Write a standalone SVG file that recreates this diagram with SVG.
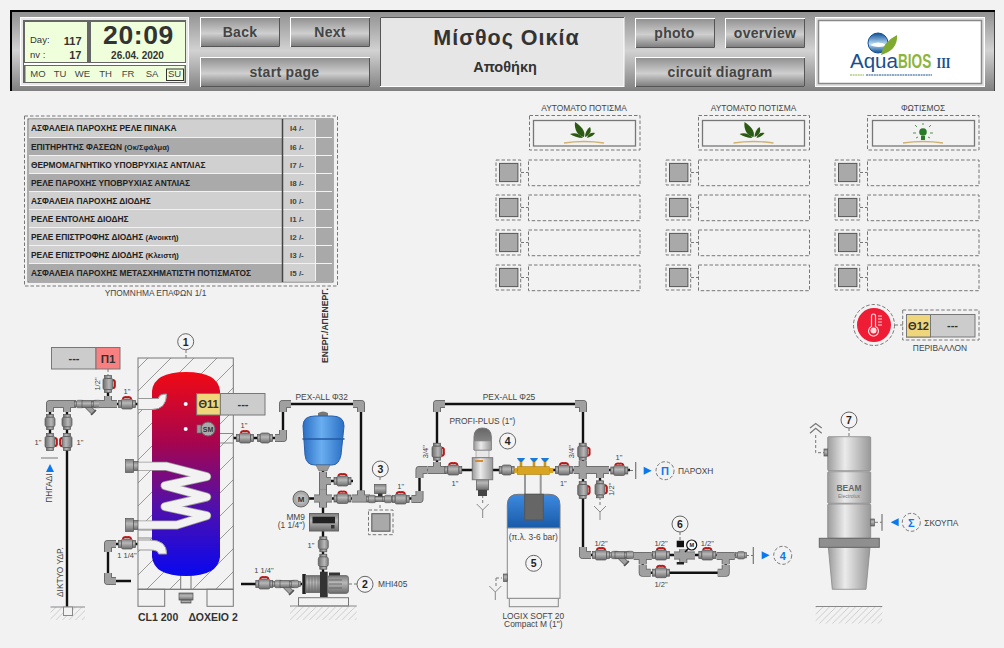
<svg xmlns="http://www.w3.org/2000/svg" width="1004" height="648" viewBox="0 0 1004 648">
<style>
text{font-family:"Liberation Sans",Arial,sans-serif;fill:#333}
.btn{fill:url(#gBtn);stroke:#fff;stroke-width:1}
.shade{fill:none;stroke:#555;stroke-width:1}
.bt{font-size:14px;font-weight:bold;text-anchor:middle;fill:#444;letter-spacing:.3px}
.cell{fill:#efffdc}
.day{font-size:9.5px;text-anchor:middle;fill:#444}
.dash{fill:none;stroke:#777;stroke-width:1;stroke-dasharray:3.5 2}
.box{fill:#a9a9a9;stroke:#555;stroke-width:1}
.inner{fill:#f2f2f2;stroke:#777;stroke-width:1.3}
.rl{fill:#d0d0d0}.rd{fill:#aaa}
.rt{font-size:8.35px;font-weight:bold;fill:#222}
.ri{font-size:8px;font-weight:bold;fill:#444}
.gl{fill:#a9a9a9}
.sep{stroke:#666;stroke-width:1;fill:none}
.l{font-size:8.4px;fill:#444}
.s{font-size:7.5px;fill:#444;text-anchor:middle}
.c{text-anchor:middle}
.num{fill:#f4f4f4;stroke:#666;stroke-width:1}
.nt{font-size:10.5px;font-weight:bold;text-anchor:middle;fill:#222}
.dc{fill:none;stroke:#777;stroke-width:1;stroke-dasharray:3 2}
.pipe{fill:none;stroke:#111;stroke-width:2.4}
.f0{fill:none;stroke:#5f5f5f;stroke-width:8;stroke-linejoin:round}
.f1{fill:none;stroke:#a0a0a0;stroke-width:6.4;stroke-linejoin:round}
.fit{fill:url(#gFit);stroke:#555;stroke-width:.7}
.tw{fill:#f2f2f2;stroke:#777;stroke-width:1}
.blt{fill:#0a78ee}
.gy{fill:#ccc;stroke:#777;stroke-width:1}
.ye{fill:#f0d67a;stroke:#777;stroke-width:1}
.capl{stroke:#777;stroke-width:1.2;fill:none}
.metal{fill:url(#gMetal);stroke:#888;stroke-width:.8}
</style>
<defs>
<linearGradient id="gPanel" x1="0" y1="0" x2="0" y2="1"><stop offset="0" stop-color="#8d8d8d"/><stop offset=".5" stop-color="#d2d2d2"/><stop offset="1" stop-color="#808080"/></linearGradient>
<linearGradient id="gBtn" x1="0" y1="0" x2="0" y2="1"><stop offset="0" stop-color="#8f8f8f"/><stop offset=".55" stop-color="#cfcfcf"/><stop offset="1" stop-color="#7c7c7c"/></linearGradient>
<linearGradient id="gFit" x1="0" y1="0" x2="0" y2="1"><stop offset="0" stop-color="#7d7d7d"/><stop offset=".4" stop-color="#b8b8b8"/><stop offset="1" stop-color="#6c6c6c"/></linearGradient>
<linearGradient id="gMetal" x1="0" y1="0" x2="1" y2="0"><stop offset="0" stop-color="#9c9c9c"/><stop offset=".4" stop-color="#ebebeb"/><stop offset="1" stop-color="#989898"/></linearGradient>
<linearGradient id="gTank" x1="0" y1="0" x2="0" y2="1"><stop offset="0" stop-color="#f00a14"/><stop offset=".35" stop-color="#a5054f"/><stop offset=".65" stop-color="#5310a8"/><stop offset="1" stop-color="#0808f0"/></linearGradient>
<linearGradient id="gExp" x1="0" y1="0" x2="1" y2="0"><stop offset="0" stop-color="#2a6fc4"/><stop offset=".45" stop-color="#6aaef0"/><stop offset="1" stop-color="#2a6fc4"/></linearGradient>
<linearGradient id="gSoft" x1="0" y1="0" x2="0" y2="1"><stop offset="0" stop-color="#3d8ae0"/><stop offset="1" stop-color="#1a5aa8"/></linearGradient>
<linearGradient id="gDome" x1="0" y1="0" x2="0" y2="1"><stop offset="0" stop-color="#666"/><stop offset="1" stop-color="#999"/></linearGradient>
<linearGradient id="gLogo" x1="0" y1="0" x2="0" y2="1"><stop offset="0" stop-color="#0d4f96"/><stop offset=".55" stop-color="#bcdcf2"/><stop offset="1" stop-color="#0d4f96"/></linearGradient>
<pattern id="hTank" width="23" height="23" patternUnits="userSpaceOnUse"><path d="M0 23L23 0" stroke="#999" stroke-width="1"/></pattern>
<pattern id="hGround" width="6.5" height="6.5" patternUnits="userSpaceOnUse"><path d="M0 6.5L6.5 0" stroke="#bbb" stroke-width=".7"/></pattern>
<g id="coupling"><rect class="fit" x="-7.5" y="-3.5" width="3" height="7"/><rect class="fit" x="4.5" y="-3.5" width="3" height="7"/><rect class="fit" x="-4.8" y="-5" width="9.6" height="10" rx="2"/></g>
<g id="valve"><rect class="fit" x="-8.5" y="-3.5" width="3" height="7"/><rect class="fit" x="5.5" y="-3.5" width="3" height="7"/><rect class="fit" x="-5.5" y="-5" width="11" height="10" rx="1.5"/><path d="M-4 -5Q-4 -7.4 0 -6.8Q4 -7.4 4 -5" fill="none" stroke="#b81818" stroke-width="2"/></g>
<g id="elbow"><path class="f0" d="M8 0H0V8"/><path class="f1" d="M8 0H0V8"/></g>
<g id="tee"><path class="f0" d="M-9 0H9M0 0V8"/><path class="f1" d="M-9 0H9M0 0V8"/></g>
<g id="cross"><path class="f0" d="M-9 0H9M0 -9V9"/><path class="f1" d="M-9 0H9M0 -9V9"/></g>
<g id="strainer"><path d="M-3 1L5 9" stroke="#5f5f5f" stroke-width="5.5" fill="none"/><path d="M-3 1L5 9" stroke="#a0a0a0" stroke-width="4" fill="none"/><rect class="fit" x="-7" y="-3.5" width="14" height="7"/><path d="M2 11L7 6" stroke="#555" stroke-width="1.4"/></g>
<g id="plant"><path d="M0 -1C-6 -2 -10 -8 -9 -16C-3 -12 2 -7 0 -1Z" fill="#2b5a12"/><path d="M1 -1C1 -5 3 -9 6 -11C8 -7 6 -3 1 -1Z" fill="#2b5a12"/><path d="M-1 0C-6 0 -11 -2 -14 -4C-9 -6 -4 -4 -1 0Z" fill="#2b5a12"/><path d="M3 0C7 -1 10 -3 11 -5C7 -6 4 -4 3 0Z" fill="#2b5a12"/><path d="M-20 5Q0 2 20 5" stroke="#d0b070" stroke-width="1.4" fill="none"/></g>
<g id="yd"><path d="M-6 0L0 6L6 0M0 6V14" fill="none" stroke="#888" stroke-width="1"/></g>
<g id="dbox"><rect class="dash" x="0" y="0" width="24.7" height="25"/><rect class="box" x="3.5" y="3.4" width="18.4" height="18.2"/><path class="dc" d="M25 12.5H32"/></g>
</defs>
<rect width="1004" height="648" fill="#f2f2f2"/>

<g id="header">
<rect x="10" y="10" width="985" height="81" fill="url(#gPanel)"/>
<path d="M11 91V11H995" fill="none" stroke="#000" stroke-width="2"/>
<path d="M994.500 12V91" stroke="#444" stroke-width="1"/>
</g>
<g id="clock">
<rect x="20.500" y="17.500" width="168" height="68" fill="#e8e8e8" stroke="#fff"/>
<rect x="23" y="20" width="163" height="63" fill="#666"/>
<rect class="cell" x="25" y="22" width="62" height="40"/>
<rect class="cell" x="91" y="22" width="94" height="40"/>
<rect x="24" y="63" width="162" height="2" fill="#fff"/>
<rect class="cell" x="25.500" y="66" width="159" height="16"/>
<text x="30" y="43" font-size="9.500" fill="#444">Day:</text>
<text x="81.500" y="44.500" font-size="11" font-weight="bold" text-anchor="end">117</text>
<text x="30" y="58" font-size="9.500" fill="#444">nv  :</text>
<text x="81.500" y="59" font-size="11" font-weight="bold" text-anchor="end">17</text>
<text x="138.500" y="44" font-size="26.500" font-weight="bold" text-anchor="middle" letter-spacing=".6">20:09</text>
<text x="137.500" y="59" font-size="10" font-weight="bold" text-anchor="middle">26.04. 2020</text>
<text class="day" x="38" y="77">MO</text><text class="day" x="60" y="77">TU</text><text class="day" x="82.500" y="77">WE</text><text class="day" x="105.500" y="77">TH</text><text class="day" x="128" y="77">FR</text><text class="day" x="152" y="77">SA</text><text class="day" x="174.500" y="77">SU</text>
<rect x="166.500" y="69" width="17" height="11.500" fill="none" stroke="#333"/>
</g>
<g id="btn-back"><rect class="btn" x="200.500" y="17.500" width="79" height="29"/><path class="shade" d="M279.500 18V46.500H201"/><text class="bt" x="240" y="37">Back</text></g>
<g id="btn-next"><rect class="btn" x="290.500" y="17.500" width="79" height="29"/><path class="shade" d="M369.500 18V46.500H291"/><text class="bt" x="330" y="37">Next</text></g>
<g id="btn-start"><rect class="btn" x="200.500" y="57.500" width="169" height="29"/><path class="shade" d="M369.500 58V86.500H201"/><text class="bt" x="284.500" y="77">start page</text></g>
<g id="title"><rect x="380.500" y="17.500" width="243.500" height="69" fill="#e6e6e6" stroke="#fff"/><path d="M380.500 86V17.500H624" fill="none" stroke="#555"/>
<text x="506.500" y="45" font-size="21.500" font-weight="bold" text-anchor="middle" fill="#444" letter-spacing="1">Μίσθος Οικία</text>
<text x="505" y="72" font-size="14.500" font-weight="bold" text-anchor="middle" fill="#444">Αποθήκη</text></g>
<g id="btn-photo"><rect class="btn" x="635.500" y="18.500" width="79" height="29"/><path class="shade" d="M714.500 19V47.500H636"/><text class="bt" x="674.500" y="38">photo</text></g>
<g id="btn-overview"><rect class="btn" x="725.500" y="18.500" width="79" height="29"/><path class="shade" d="M804.500 19V47.500H726"/><text class="bt" x="765" y="38">overview</text></g>
<g id="btn-circuit"><rect class="btn" x="635.500" y="57.500" width="169" height="29"/><path class="shade" d="M804.500 58V86.500H636"/><text class="bt" x="720" y="77">circuit diagram</text></g>
<g id="logo">
<rect x="815.500" y="17.500" width="169" height="69" fill="#e0e0e0" stroke="#fff"/>
<rect x="818.500" y="20.500" width="163" height="63" fill="#fff" stroke="#888" stroke-width="1.500"/>
<circle cx="878" cy="43" r="10" fill="url(#gLogo)" stroke="#0d4f96"/>
<path d="M870 45Q878 40 887 45Q879 49 870 45Z" fill="#fff"/>
<path d="M881 55Q883 42 897 35Q898 50 881 55Z" fill="#7fa92f"/>
<text x="850" y="68" font-size="20.500" style="fill:#17508f">Aqua</text>
<text transform="translate(898 68) scale(.68 1)" font-size="20" font-weight="bold" style="fill:#8db53c">BIOS</text>
<text transform="translate(936.500 68) scale(.8 1)" font-size="15" font-weight="bold" style="font-family:'Liberation Serif',serif;fill:#17508f">III</text>
<path d="M850 75H864" stroke="#8db53c" stroke-dasharray="2 .6" stroke-width="1.200"/>
<path d="M866 75H932" stroke="#17508f" stroke-dasharray="2 .6" stroke-width="1"/>
</g>

<g id="legend">
<rect class="dash" x="24.500" y="116" width="313" height="170"/>
<rect x="28" y="119" width="305" height="163" fill="#f2f2f2" stroke="#666"/>
<g id="legend-r1"><rect class="rl" x="29" y="119.500" width="253" height="17.500"/><rect class="rl" x="283" y="119.500" width="32" height="17.500"/><rect class="gl" x="316" y="119.500" width="17" height="17.500"/><text class="rt" x="31" y="131">ΑΣΦΑΛΕΙΑ ΠΑΡΟΧΗΣ ΡΕΛΕ ΠΙΝΑΚΑ</text><text class="ri" x="290" y="131">I4 /-</text></g>
<g id="legend-r2"><rect class="rd" x="29" y="138" width="253" height="17"/><rect class="rl" x="283" y="138" width="32" height="17"/><rect class="gl" x="316" y="138" width="17" height="17"/><text class="rt" x="31" y="149.500">ΕΠΙΤΗΡΗΤΗΣ ΦΑΣΕΩΝ <tspan font-size="7.500">(Οκ/Σφάλμα)</tspan></text><text class="ri" x="290" y="149.500">I6 /-</text></g>
<g id="legend-r3"><rect class="rl" x="29" y="156" width="253" height="17"/><rect class="rl" x="283" y="156" width="32" height="17"/><rect class="gl" x="316" y="156" width="17" height="17"/><text class="rt" x="31" y="167.500">ΘΕΡΜΟΜΑΓΝΗΤΙΚΟ ΥΠΟΒΡΥΧΙΑΣ ΑΝΤΛΙΑΣ</text><text class="ri" x="290" y="167.500">I7 /-</text></g>
<g id="legend-r4"><rect class="rd" x="29" y="174" width="253" height="17"/><rect class="rl" x="283" y="174" width="32" height="17"/><rect class="gl" x="316" y="174" width="17" height="17"/><text class="rt" x="31" y="185.500">ΡΕΛΕ ΠΑΡΟΧΗΣ ΥΠΟΒΡΥΧΙΑΣ ΑΝΤΛΙΑΣ</text><text class="ri" x="290" y="185.500">I8 /-</text></g>
<g id="legend-r5"><rect class="rl" x="29" y="192" width="253" height="17"/><rect class="rl" x="283" y="192" width="32" height="17"/><rect class="gl" x="316" y="192" width="17" height="17"/><text class="rt" x="31" y="203.500">ΑΣΦΑΛΕΙΑ ΠΑΡΟΧΗΣ ΔΙΟΔΗΣ</text><text class="ri" x="290" y="203.500">I0 /-</text></g>
<g id="legend-r6"><rect class="rl" x="29" y="210" width="253" height="17"/><rect class="rl" x="283" y="210" width="32" height="17"/><rect class="gl" x="316" y="210" width="17" height="17"/><text class="rt" x="31" y="221.500">ΡΕΛΕ ΕΝΤΟΛΗΣ ΔΙΟΔΗΣ</text><text class="ri" x="290" y="221.500">I1 /-</text></g>
<g id="legend-r7"><rect class="rl" x="29" y="228" width="253" height="17"/><rect class="rl" x="283" y="228" width="32" height="17"/><rect class="gl" x="316" y="228" width="17" height="17"/><text class="rt" x="31" y="239.500">ΡΕΛΕ ΕΠΙΣΤΡΟΦΗΣ ΔΙΟΔΗΣ <tspan font-size="7.500">(Ανοικτή)</tspan></text><text class="ri" x="290" y="239.500">I2 /-</text></g>
<g id="legend-r8"><rect class="rl" x="29" y="246" width="253" height="17"/><rect class="rl" x="283" y="246" width="32" height="17"/><rect class="gl" x="316" y="246" width="17" height="17"/><text class="rt" x="31" y="257.500">ΡΕΛΕ ΕΠΙΣΤΡΟΦΗΣ ΔΙΟΔΗΣ <tspan font-size="7.500">(Κλειστή)</tspan></text><text class="ri" x="290" y="257.500">I3 /-</text></g>
<g id="legend-r9"><rect class="rd" x="29" y="264" width="253" height="17.500"/><rect class="rl" x="283" y="264" width="32" height="17.500"/><rect class="gl" x="316" y="264" width="17" height="17.500"/><text class="rt" x="31" y="275.500">ΑΣΦΑΛΕΙΑ ΠΑΡΟΧΗΣ ΜΕΤΑΣΧΗΜΑΤΙΣΤΗ ΠΟΤΙΣΜΑΤΟΣ</text><text class="ri" x="290" y="275.500">I5 /-</text></g>
<path d="M282.500 119V282" stroke="#444" stroke-width="1.500"/>
<text class="l c" x="155.500" y="296">ΥΠΟΜΝΗΜΑ ΕΠΑΦΩΝ 1/1</text>
<text x="328" y="363" font-size="8.600" font-weight="bold" fill="#222" transform="rotate(-90 328 363)">ΕΝΕΡΓ./ΑΠΕΝΕΡΓ.</text>
</g>

<g id="col1">
<text class="l c" x="584" y="111">ΑΥΤΟΜΑΤΟ ΠΟΤΙΣΜΑ</text>
<rect class="dash" x="529.500" y="115.500" width="110.500" height="34.500"/><rect class="inner" x="533.500" y="120.500" width="102" height="25.500"/><use href="#plant" x="584" y="138"/>
<rect class="dash" x="528.500" y="160" width="111.500" height="25.700"/><rect class="dash" x="528.500" y="195" width="111.500" height="25.700"/><rect class="dash" x="528.500" y="230" width="111.500" height="25.700"/><rect class="dash" x="528.500" y="265" width="111.500" height="25.700"/>
<use href="#dbox" x="496" y="160"/><use href="#dbox" x="496" y="195"/><use href="#dbox" x="496" y="230"/><use href="#dbox" x="496" y="265"/>
</g>
<g id="col2">
<text class="l c" x="753.500" y="111">ΑΥΤΟΜΑΤΟ ΠΟΤΙΣΜΑ</text>
<rect class="dash" x="698.500" y="115.500" width="111" height="34.500"/><rect class="inner" x="702.500" y="120.500" width="102" height="25.500"/><use href="#plant" x="753.500" y="138"/>
<rect class="dash" x="698.500" y="160" width="111" height="25.700"/><rect class="dash" x="698.500" y="195" width="111" height="25.700"/><rect class="dash" x="698.500" y="230" width="111" height="25.700"/><rect class="dash" x="698.500" y="265" width="111" height="25.700"/>
<use href="#dbox" x="666" y="160"/><use href="#dbox" x="666" y="195"/><use href="#dbox" x="666" y="230"/><use href="#dbox" x="666" y="265"/>
</g>
<g id="col3">
<text class="l c" x="923" y="111">ΦΩΤΙΣΜΟΣ</text>
<rect class="dash" x="867.500" y="115.500" width="111.500" height="34.500"/><rect class="inner" x="872.500" y="120.500" width="102" height="25.500"/>
<g transform="translate(923 133)"><circle cy="-1" r="3.800" fill="#2b7a2a"/><rect x="-2" y="3" width="4" height="4" fill="#2b7a2a"/><path d="M0 -8V-10M-6 -6L-8 -8M6 -6L8 -8M-7 0H-10M7 0H10M-5 4L-7 5M5 4L7 5" stroke="#2b7a2a" stroke-width=".8"/><path d="M-20 10Q0 7 20 10" stroke="#d0b070" stroke-width="1.400" fill="none"/></g>
<rect class="dash" x="867.500" y="160" width="111.500" height="25.700"/><rect class="dash" x="867.500" y="195" width="111.500" height="25.700"/><rect class="dash" x="867.500" y="230" width="111.500" height="25.700"/><rect class="dash" x="867.500" y="265" width="111.500" height="25.700"/>
<use href="#dbox" x="835" y="160"/><use href="#dbox" x="835" y="195"/><use href="#dbox" x="835" y="230"/><use href="#dbox" x="835" y="265"/>
</g>
<g id="sensor-env">
<circle class="dash" cx="874" cy="325" r="20.500"/><circle cx="874" cy="325" r="17" fill="#ee1c34"/>
<path d="M871.500 316a2 2 0 0 1 4 0V326.500a5 5 0 1 1 -4 0Z" fill="none" stroke="#ffd9dc" stroke-width="1.200"/><circle cx="873.500" cy="330.500" r="3" fill="#ffd9dc"/><path d="M878 316H882M878 319H882M878 322H882M878 325H882" stroke="#ffd9dc" stroke-width="1"/>
<path class="dc" d="M895 325H903"/>
<rect class="dash" x="902.700" y="310" width="76.300" height="30"/>
<rect class="gy" x="906.500" y="314.500" width="68.500" height="22.500"/><rect class="ye" x="906.500" y="314.500" width="24" height="22.500"/>
<text x="918.500" y="329.500" font-size="11" font-weight="bold" text-anchor="middle" fill="#111">Θ12</text><text x="952.500" y="329" font-size="11" font-weight="bold" text-anchor="middle" fill="#222">---</text>
<text class="l c" x="940" y="351">ΠΕΡΙΒΑΛΛΟΝ</text>
</g>

<g id="connectors">
<path class="pipe" d="M50 404H138M50 404V450M67 404V607M108 404V376"/>
<path class="pipe" d="M138 544H108V581H131"/>
<path class="pipe" d="M241 584H302"/>
<path class="pipe" d="M233 438H283V404H361V498"/>
<path class="pipe" d="M323 466V572"/>
<path class="pipe" d="M353 481H323M305 498.500H419.500V470H600M437 470V404H583V555H741"/>
<path class="pipe" d="M600 470V497M600 470H630"/>
<path class="pipe" d="M642.700 556V572.700H725.700V556"/>
<path class="dc" d="M108 369V377M197 404H185.700M197 429H185.700"/>
<path class="dc" d="M186 350V358M349 584H357M380 477V482M380 505V510M515 441H499M496 578H502M496 578V586M482.700 495V504"/>
<path class="dc" d="M600 497V506M630 470.500H636M680 532V541M746 555.500H753"/>
<path class="dc" d="M849 428V437M826 452.700H815.700V433M875 522.300H882"/>
<path class="capl" d="M41 458H58M635.700 462V479M753.300 547V564M882 514V530.700"/>
<path class="capl" d="M810 433.300L815.700 428.300L821.700 433.300M810 428L815.700 423.500L821.700 428" stroke-width="1"/>
</g>

<g id="tank">
<rect x="138" y="358" width="95.300" height="231.300" fill="url(#hTank)" stroke="#777"/>
<rect x="138" y="589.300" width="26.700" height="17" fill="#f2f2f2" stroke="#777"/><rect x="207" y="589.300" width="26.300" height="17" fill="#f2f2f2" stroke="#777"/>
<rect x="180.700" y="575" width="10.300" height="14.300" fill="#f2f2f2" stroke="#777"/>
<path d="M138 589.300H233" stroke="#777"/>
<path d="M152 391Q154 372 186 372Q218 372 220 391V557Q218 576 186 576Q154 576 152 557Z" fill="url(#gTank)"/>
<path d="M138 398.500H158.500Q158.500 394 166.500 394Q166.500 409.500 152 409.500H138Z" class="tw" style="stroke:#999"/>
<path d="M138 540H150Q166.700 540 166.700 554H158.500Q158.500 550 150 550H138Z" class="tw" style="stroke:#999"/>
<path d="M138 466.300H166.700L206.700 476.700L165 485.700L206.700 497L165 506.700L206.700 515.700L176.700 525H138" fill="none" stroke="#999" stroke-width="9" stroke-linejoin="round"/>
<path d="M138 466.300H166.700L206.700 476.700L165 485.700L206.700 497L165 506.700L206.700 515.700L176.700 525H138" fill="none" stroke="#f2f2f2" stroke-width="7.400" stroke-linejoin="round"/>
<path d="M220 433.500H233M220 443H233M138 530H152M138 538H152" stroke="#888" fill="none"/>
<g><rect class="fit" x="125.500" y="459.500" width="8" height="13"/><rect class="fit" x="133.500" y="461.500" width="4.500" height="9"/></g>
<g><rect class="fit" x="125.500" y="518.500" width="8" height="13"/><rect class="fit" x="133.500" y="520.500" width="4.500" height="9"/></g>
<rect class="fit" x="179" y="593" width="14" height="7"/><rect class="fit" x="181" y="600" width="10" height="3"/>
<circle class="num" cx="185.700" cy="341.700" r="8"/><text class="nt" x="185.700" y="345.500">1</text>
<circle cx="185.700" cy="404" r="2" fill="#fff"/><circle cx="185.700" cy="429" r="2" fill="#fff"/>
<circle cx="208" cy="429" r="7" fill="#aaa" stroke="#666"/><rect x="197" y="425" width="4" height="8" fill="#999" stroke="#666" stroke-width=".6"/><text x="208" y="431.500" font-size="7" font-weight="bold" text-anchor="middle">SM</text>
<text x="138" y="621" font-size="10.500" font-weight="bold" fill="#222">CL1 200</text><text x="188.500" y="621" font-size="10.500" font-weight="bold" fill="#222">ΔΟΧΕΙΟ 2</text>
</g>
<g id="tag-p1"><rect class="gy" x="51.500" y="347.500" width="44.500" height="21.500"/><rect x="96" y="347.500" width="24" height="21.500" fill="#f98080" stroke="#777"/><text x="74" y="362" font-size="11" font-weight="bold" text-anchor="middle" fill="#222">---</text><text x="108" y="362.500" font-size="11.500" font-weight="bold" text-anchor="middle" fill="#222">Π1</text></g>
<g id="tag-t11"><rect class="gy" x="220.300" y="393.500" width="44.700" height="21.500"/><rect class="ye" x="196.700" y="393.500" width="23.600" height="21.500"/><text x="208.500" y="408" font-size="11" font-weight="bold" text-anchor="middle" fill="#111">Θ11</text><text x="243" y="408" font-size="11" font-weight="bold" text-anchor="middle" fill="#222">---</text></g>

<g id="left-fittings">
<use href="#elbow" transform="translate(50 404)"/>
<use href="#tee" transform="translate(67 404)"/>
<use href="#coupling" transform="translate(80 404) scale(.75)"/>
<use href="#strainer" transform="translate(89 404)"/>
<use href="#coupling" transform="translate(97 404) scale(.75)"/>
<use href="#tee" transform="translate(108 404) rotate(180)"/>
<use href="#valve" transform="translate(108 384) rotate(90)"/>
<use href="#valve" x="127" y="404"/>
<use href="#coupling" transform="translate(50 422) rotate(90)"/>
<use href="#coupling" transform="translate(67 422) rotate(90)"/>
<use href="#valve" transform="translate(50 442) rotate(90)"/>
<use href="#valve" transform="translate(67 442) rotate(-90)"/>
<use href="#elbow" transform="translate(108 544)"/>
<use href="#elbow" transform="translate(108 581) rotate(-90)"/>
<use href="#valve" x="127" y="544"/>
<text class="s" x="127" y="394">1"</text><text class="s" x="38" y="445">1"</text><text class="s" x="80" y="445">1"</text><text class="s" x="127" y="558">1 1/4"</text>
<text class="s" transform="translate(100 384) rotate(-90)">1/2"</text>
<path class="blt" d="M50 464L54 472H46Z"/>
<text class="l c" transform="translate(52 488) rotate(-90)">ΠΗΓΑΔΙ</text>
<text class="l" transform="translate(63 597) rotate(-90)">ΔΙΚΤΥΟ ΥΔΡ.</text>
<rect x="50.500" y="607" width="34.500" height="13" fill="url(#hGround)"/><path d="M50.500 607H85" stroke="#888"/><rect x="63.500" y="607" width="9" height="8.500" fill="#f2f2f2" stroke="#888"/>
</g>

<g id="pressure-set">
<use href="#valve" x="245" y="438"/><use href="#coupling" x="265" y="438"/>
<use href="#elbow" transform="translate(283 438) rotate(180)"/><use href="#elbow" transform="translate(283 404)"/><use href="#elbow" transform="translate(361 404) rotate(90)"/>
<text class="s" x="244" y="428">1"</text>
<text class="l c" x="321.700" y="400">PEX-ALL Φ32</text>
<path d="M318 413Q323 410 328 413V416H318Z" fill="#777"/>
<path d="M303 426Q303 416 315 416H332Q344 416 344 426L341 455Q339 465 332 465H315Q306 465 305 455Z" fill="url(#gExp)" stroke="#2a5fa8"/>
<path d="M302.500 439H344.500" stroke="#225aa0" stroke-width="1.500"/>
<path d="M316 465H330L327 471H319Z" fill="#999" stroke="#666" stroke-width=".6"/>
<use href="#tee" transform="translate(323 481) rotate(-90)"/>
<use href="#valve" x="342.500" y="481"/>
<use href="#cross" x="323" y="498.500"/>
<circle cx="301" cy="499" r="8" fill="#aaa" stroke="#666"/><circle cx="301" cy="499" r="5" fill="#bbb"/><text x="301" y="502" font-size="8" font-weight="bold" text-anchor="middle">M</text>
<use href="#valve" x="342.500" y="498.500"/>
<use href="#tee" transform="translate(361 498.500) rotate(180)"/>
<rect x="309.500" y="513.500" width="29" height="17.500" fill="url(#gFit)" stroke="#666"/><rect x="312.500" y="516.700" width="22.500" height="6.600" fill="#222"/><rect x="331" y="525" width="3.500" height="3.500" fill="#333"/>
<text class="l" x="305" y="519.500" text-anchor="end">ΜΜ9</text><text class="l" x="305" y="528" text-anchor="end">(1 1/4")</text>
<use href="#coupling" transform="translate(323.300 544.300) rotate(90)"/><use href="#coupling" transform="translate(323.300 561.700) rotate(90)"/>
<text class="s" x="311" y="548">1"</text>
</g>
<g id="pump">
<use href="#valve" x="264.300" y="584"/><use href="#coupling" transform="translate(278.300 584) scale(.75)"/><use href="#strainer" x="287" y="584"/><use href="#coupling" transform="translate(295 584) scale(.75)"/>
<text class="s" x="264" y="573">1 1/4"</text>
<rect x="298.500" y="597.700" width="50" height="8.300" fill="#f2f2f2" stroke="#777"/>
<rect x="290" y="606" width="66.700" height="14" fill="url(#hGround)"/><path d="M290 606H356.700" stroke="#888"/>
<rect x="302.300" y="574" width="3.500" height="20" fill="#222"/>
<rect x="305.700" y="575.700" width="14.500" height="16.700" fill="url(#gFit)" stroke="#666"/><path d="M309 576V592M312 576V592M315 576V592M318 576V592" stroke="#666" stroke-width=".6"/>
<rect x="320" y="571.700" width="7.700" height="25.300" fill="#333"/>
<rect x="329" y="572.500" width="11" height="4" fill="#333"/>
<rect x="327.700" y="575.700" width="20.600" height="17.600" rx="2" fill="url(#gFit)" stroke="#666"/><path d="M329 580H342M329 584H342M329 588H342" stroke="#555" stroke-width=".7"/>
<circle class="num" cx="365" cy="584.300" r="8"/><text class="nt" x="365" y="588">2</text>
<text class="l" x="378" y="587">MHI405</text>
</g>
<g id="sensor-3">
<use href="#coupling" transform="translate(372 499) scale(.75)"/><rect class="fit" x="375" y="496.500" width="10" height="5"/><use href="#coupling" transform="translate(388 499) scale(.75)"/>
<rect class="fit" x="374.500" y="484.500" width="11.500" height="9"/><rect x="378" y="493.500" width="4.500" height="3" fill="#333"/>
<circle class="num" cx="380.300" cy="469" r="8"/><text class="nt" x="380.300" y="472.800">3</text>
<rect class="dash" x="368.500" y="510" width="24.500" height="24.700"/><rect class="box" x="371.800" y="513.700" width="18.200" height="17.500"/>
</g>
<g id="filter-line">
<use href="#valve" x="400.700" y="499"/><text class="s" x="400.700" y="489">1"</text>
<use href="#elbow" transform="translate(419.500 499) rotate(180)"/><use href="#elbow" transform="translate(419.500 470)"/>
<use href="#tee" transform="translate(437 470) rotate(180)"/>
<use href="#valve" transform="translate(437 451.700) rotate(90)"/>
<text class="s" transform="translate(428 451.700) rotate(-90)">3/4"</text>
<use href="#elbow" transform="translate(437 404)"/><use href="#elbow" transform="translate(583 404) rotate(90)"/>
<text class="l c" x="509" y="400">PEX-ALL Φ25</text>
<use href="#valve" x="453.300" y="470"/><text class="s" x="455" y="486">1"</text>
<rect class="fit" x="476.500" y="478" width="12" height="12"/><rect x="478" y="490" width="9" height="6" fill="#444"/>
<rect x="476" y="449" width="13" height="9" fill="#e8e8e8" stroke="#888" stroke-width=".6"/>
<rect x="472.300" y="457.700" width="20.400" height="22" fill="url(#gMetal)" stroke="#777"/><rect x="475" y="460" width="8" height="2" fill="#d98a2a"/>
<path d="M474 450V437Q474 428 482.500 428Q491.300 428 491.300 437V450Z" fill="url(#gDome)" stroke="#777"/>
<rect x="474" y="441" width="17.300" height="9" fill="url(#gMetal)" stroke="#888" stroke-width=".6"/>
<circle class="num" cx="507.700" cy="441" r="8"/><text class="nt" x="507.700" y="444.800">4</text>
<text class="l c" x="482.300" y="424">PROFI-PLUS (1")</text>
<use href="#yd" x="482.700" y="504"/>
<use href="#coupling" x="506.700" y="470"/>
</g>
<g id="softener">
<path d="M525 474V495M540.700 474V495" stroke="#999" stroke-width="2" fill="none"/>
<rect x="509.300" y="598" width="49" height="8.700" fill="#f2f2f2" stroke="#888"/>
<path d="M507.300 528V505Q507.300 494.300 518 494.300H549Q560 494.300 560 505V528Z" fill="url(#gSoft)" stroke="#777"/>
<rect x="507.300" y="528" width="52.700" height="70.300" fill="#f4f4f4" stroke="#888"/>
<rect x="524.700" y="494.300" width="18.600" height="25.700" fill="#666" stroke="#555"/>
<text class="l c" x="533.300" y="540">(π.λ. 3-6 bar)</text>
<circle class="num" cx="533.700" cy="563.300" r="8"/><text class="nt" x="533.700" y="567.100">5</text>
<rect class="fit" x="503.500" y="574" width="3.800" height="7.500"/>
<use href="#yd" x="495.300" y="586"/>
<text class="l c" x="533.300" y="618.500">LOGIX SOFT 20</text><text class="l c" x="533.300" y="626.500">Compact M (1")</text>
</g>
<g id="manifold">
<path d="M521 467V461M534 467V461M545 467V461" stroke="#c8961e" stroke-width="2.600" fill="none"/>
<path d="M517.500 458.500H524.500L522 461.500H520ZM530.500 458.500H537.500L535 461.500H533ZM541.500 458.500H548.500L546 461.500H544Z" fill="#1a78d8" stroke="#1a78d8"/>
<rect x="517.300" y="466.700" width="32" height="7.800" fill="#d9a520" stroke="#a87a10" stroke-width=".6"/>
<rect x="549.300" y="468" width="4" height="5" fill="#d9a520"/><rect x="514.300" y="468" width="3" height="5" fill="#d9a520"/>
</g>
<g id="outlet">
<use href="#valve" x="564" y="470"/><text class="s" x="563.300" y="486">1"</text>
<use href="#cross" x="582.700" y="470"/><use href="#tee" x="600" y="470"/>
<use href="#valve" x="619.300" y="470.500"/><text class="s" x="619" y="460">1"</text>
<use href="#valve" transform="translate(582.700 451.700) rotate(90)"/><text class="s" transform="translate(574 451.700) rotate(-90)">3/4"</text>
<use href="#valve" transform="translate(582.700 490) rotate(90)"/>
<use href="#valve" transform="translate(600 489.300) rotate(90)"/><text class="s" transform="translate(613.500 489.300) rotate(-90)">1/2"</text>
<use href="#yd" x="600" y="506"/>
<path class="blt" d="M643.700 466.700L651.700 470.700L643.700 474.700Z"/>
<circle class="dash" cx="665" cy="470.700" r="9"/><text x="665" y="475" font-size="11" font-weight="bold" text-anchor="middle" style="fill:#0a78ee">Π</text>
<text class="l" x="678" y="473.500">ΠΑΡΟΧΗ</text>
</g>
<g id="bypass">
<use href="#elbow" transform="translate(583 555) rotate(-90)"/>
<use href="#valve" x="601" y="555"/><text class="s" x="601" y="546">1/2"</text>
<use href="#coupling" transform="translate(615 555) scale(.75)"/><use href="#strainer" x="622" y="555"/><use href="#coupling" transform="translate(630 555) scale(.75)"/>
<use href="#tee" x="642.700" y="556"/>
<use href="#valve" x="661" y="555"/><text class="s" x="661" y="546">1/2"</text>
<path class="f0" d="M674 555.500H695M683.300 549V563"/><path class="f1" d="M674 555.500H695M683.300 549V563"/>
<rect x="676.700" y="540.700" width="7.300" height="6.500" fill="#111"/><rect x="676.700" y="562" width="7.300" height="2.500" fill="#222"/>
<circle cx="691.700" cy="545" r="5" fill="#fff" stroke="#111" stroke-width="1.200"/><text x="691.700" y="547" font-size="5.500" font-weight="bold" text-anchor="middle" style="fill:#111">M</text><path d="M688 549L685 552" stroke="#111" stroke-width="1.500"/>
<circle class="num" cx="680" cy="524" r="8"/><text class="nt" x="680" y="527.800">6</text>
<use href="#valve" x="707.300" y="555"/><text class="s" x="707.300" y="546">1/2"</text>
<use href="#tee" x="725.700" y="556"/>
<use href="#coupling" transform="translate(741 555.300) scale(.75)"/>
<use href="#elbow" transform="translate(642.700 572.700) rotate(-90)"/><use href="#elbow" transform="translate(725.700 572.700) rotate(180)"/>
<use href="#valve" x="661" y="572.700"/><text class="s" x="661" y="587">1/2"</text>
<path class="blt" d="M761.700 551.300L769.700 555.300L761.700 559.300Z"/>
<circle class="dash" cx="782.700" cy="555.300" r="9"/><text x="782.700" y="559.500" font-size="11" font-weight="bold" text-anchor="middle" style="fill:#0a78ee">4</text>
</g>
<g id="vacuum">
<path class="metal" d="M828.300 547.300H870L866 589.300H832.300Z"/>
<rect class="metal" x="827.700" y="436.700" width="43" height="34" rx="1"/>
<rect class="metal" x="827.700" y="471.700" width="43" height="31.600" rx="1"/>
<rect class="metal" x="827.700" y="504" width="43" height="34.300" rx="1"/>
<rect x="819.300" y="538.300" width="60" height="9" fill="#8f8f8f" stroke="#666"/>
<rect class="fit" x="824" y="449" width="3.700" height="7"/><rect class="fit" x="870.700" y="519" width="3.700" height="7"/>
<text x="849" y="491" font-size="8.500" font-weight="bold" text-anchor="middle" style="fill:#666">BEAM</text><text x="849" y="498" font-size="5" text-anchor="middle" style="fill:#777">Electrolux</text>
<circle class="num" cx="849" cy="420" r="8"/><text class="nt" x="849" y="423.800">7</text>
<rect x="815.700" y="606.500" width="66.600" height="17" fill="url(#hGround)"/><path d="M815.700 606.500H882.300" stroke="#888"/>
<path class="blt" d="M898.700 518.300L890.700 522.300L898.700 526.300Z"/>
<circle class="dash" cx="911.300" cy="522.300" r="9"/><text x="911.300" y="526.500" font-size="11" font-weight="bold" text-anchor="middle" style="fill:#0a78ee">Σ</text>
<text class="l" x="924.300" y="525.500">ΣΚΟΥΠΑ</text>
</g>
</svg>
